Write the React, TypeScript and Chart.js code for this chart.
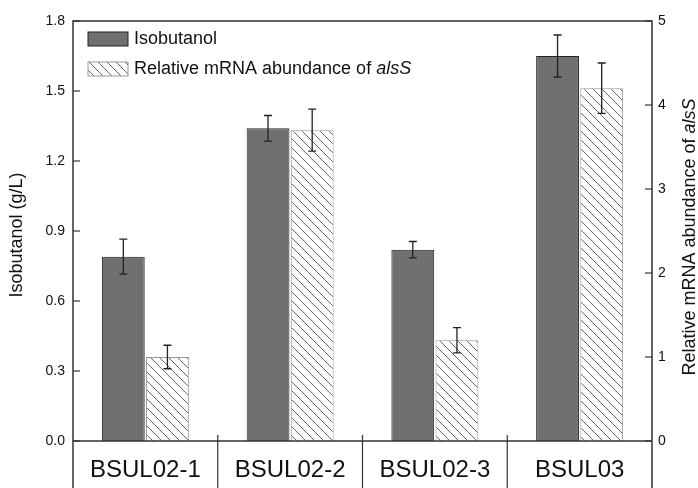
import React, { useEffect, useRef } from "react";
import { Chart, registerables } from "chart.js";

Chart.register(...registerables);

const strains = ["BSUL02-1", "BSUL02-2", "BSUL02-3", "BSUL03"];
const isobutanol = [0.79, 1.34, 0.82, 1.65];
const isobutanolErr = [0.075, 0.055, 0.035, 0.09];
const mrna = [1.0, 3.7, 1.2, 4.2];
const mrnaErr = [0.14, 0.25, 0.15, 0.3];
const leftTicks = [0, 0.3, 0.6, 0.9, 1.2, 1.5, 1.8];
const rightTicks = [0, 1, 2, 3, 4, 5];

const FONT = "'Liberation Sans', Arial, sans-serif";

function makeHatch(): CanvasPattern | string {
  const s = 9;
  const c = document.createElement("canvas");
  c.width = s;
  c.height = s;
  const g = c.getContext("2d");
  if (!g) return "#fff";
  g.fillStyle = "#ffffff";
  g.fillRect(0, 0, s, s);
  g.strokeStyle = "#666";
  g.lineWidth = 1;
  for (const x0 of [-s, 0, s]) {
    g.beginPath();
    g.moveTo(x0, 0);
    g.lineTo(x0 + s, s);
    g.stroke();
  }
  const p = g.createPattern(c, "repeat");
  return p || "#fff";
}

export default function App() {
  const ref = useRef<HTMLCanvasElement | null>(null);
  useEffect(() => {
    if (!ref.current) return;
    const hatch = makeHatch();
    const errs = [isobutanolErr, mrnaErr];

    const deco = {
      id: "deco",
      afterDatasetsDraw(chart: any) {
        const ctx = chart.ctx;
        const ca = chart.chartArea;
        const H = chart.height;
        ctx.save();
        // error bars
        ctx.strokeStyle = "#222";
        ctx.lineWidth = 1.3;
        [0, 1].forEach((di) => {
          const meta = chart.getDatasetMeta(di);
          const scale = chart.scales[meta.yAxisID];
          const vals = chart.data.datasets[di].data as number[];
          meta.data.forEach((el: any, j: number) => {
            const x = el.x;
            const yt = scale.getPixelForValue(vals[j] + errs[di][j]);
            const yb = scale.getPixelForValue(vals[j] - errs[di][j]);
            ctx.beginPath();
            ctx.moveTo(x, yt);
            ctx.lineTo(x, yb);
            ctx.moveTo(x - 4, yt);
            ctx.lineTo(x + 4, yt);
            ctx.moveTo(x - 4, yb);
            ctx.lineTo(x + 4, yb);
            ctx.stroke();
          });
        });
        // frame
        ctx.strokeStyle = "#333";
        ctx.lineWidth = 1.5;
        ctx.beginPath();
        ctx.moveTo(ca.left, H);
        ctx.lineTo(ca.left, ca.top);
        ctx.lineTo(ca.right, ca.top);
        ctx.lineTo(ca.right, H);
        ctx.moveTo(ca.left, ca.bottom);
        ctx.lineTo(ca.right, ca.bottom);
        ctx.stroke();
        // separators
        const step = (ca.right - ca.left) / strains.length;
        ctx.lineWidth = 1.2;
        for (let i = 1; i < strains.length; i++) {
          const x = ca.left + step * i;
          ctx.beginPath();
          ctx.moveTo(x, ca.bottom - 6);
          ctx.lineTo(x, H);
          ctx.stroke();
        }
        // inward ticks
        const yl = chart.scales.y;
        const yr = chart.scales.y1;
        leftTicks.forEach((v) => {
          const y = yl.getPixelForValue(v);
          ctx.beginPath();
          ctx.moveTo(ca.left, y);
          ctx.lineTo(ca.left + 7, y);
          ctx.stroke();
        });
        rightTicks.forEach((v) => {
          const y = yr.getPixelForValue(v);
          ctx.beginPath();
          ctx.moveTo(ca.right, y);
          ctx.lineTo(ca.right - 7, y);
          ctx.stroke();
        });
        // axis titles
        const TS = 18;
        ctx.fillStyle = "#111";
        ctx.textBaseline = "middle";
        ctx.font = `${TS}px ${FONT}`;
        ctx.save();
        ctx.translate(17, 235);
        ctx.rotate(-Math.PI / 2);
        ctx.textAlign = "center";
        ctx.fillText("Isobutanol (g/L)", 0, 0);
        ctx.restore();

        const base = "Relative mRNA abundance of ";
        const ital = "alsS";
        ctx.font = `${TS}px ${FONT}`;
        const w1 = ctx.measureText(base).width;
        ctx.font = `italic ${TS}px ${FONT}`;
        const w2 = ctx.measureText(ital).width;
        ctx.save();
        ctx.translate(690, 237);
        ctx.rotate(-Math.PI / 2);
        ctx.textAlign = "left";
        const sx = -(w1 + w2) / 2;
        ctx.font = `${TS}px ${FONT}`;
        ctx.fillText(base, sx, 0);
        ctx.font = `italic ${TS}px ${FONT}`;
        ctx.fillText(ital, sx + w1, 0);
        ctx.restore();

        // legend
        const LS = 18;
        const lx = 88;
        ctx.lineWidth = 1;
        ctx.fillStyle = "#707070";
        ctx.fillRect(lx, 32, 40, 14);
        ctx.strokeStyle = "#222";
        ctx.strokeRect(lx, 32, 40, 14);
        ctx.fillStyle = hatch as any;
        ctx.fillRect(lx, 62, 40, 14);
        ctx.strokeStyle = "#999";
        ctx.strokeRect(lx, 62, 40, 14);
        ctx.fillStyle = "#111";
        ctx.textAlign = "left";
        ctx.font = `${LS}px ${FONT}`;
        const lw1 = ctx.measureText(base).width;
        ctx.fillText(chart.data.datasets[0].label, lx + 46, 39);
        ctx.fillText(base, lx + 46, 69);
        ctx.font = `italic ${LS}px ${FONT}`;
        ctx.fillText(ital, lx + 46 + lw1, 69);
        ctx.restore();
      },
    };

    const chart = new Chart(ref.current, {
      type: "bar",
      data: {
        labels: strains,
        datasets: [
          {
            label: "Isobutanol",
            data: isobutanol,
            backgroundColor: "#707070",
            borderColor: "#222",
            borderWidth: 1,
            yAxisID: "y",
            categoryPercentage: 0.61,
            barPercentage: 0.97,
          },
          {
            label: "Relative mRNA abundance of alsS",
            data: mrna,
            backgroundColor: hatch as any,
            borderColor: "#999",
            borderWidth: 1,
            yAxisID: "y1",
            categoryPercentage: 0.61,
            barPercentage: 0.97,
          },
        ],
      },
      options: {
        animation: false,
        responsive: false,
        maintainAspectRatio: false,
        layout: { padding: { top: 21, left: 0, right: 0, bottom: 0 } },
        plugins: {
          legend: { display: false },
          tooltip: { enabled: false },
        },
        scales: {
          x: {
            grid: { display: false, drawTicks: false },
            border: { display: false },
            ticks: {
              padding: 15,
              color: "#111",
              font: { family: FONT, size: 24 },
              maxRotation: 0,
            },
            afterFit: (s: any) => {
              s.height = 47;
            },
          },
          y: {
            position: "left",
            min: 0,
            max: 1.8,
            grid: { display: false, drawTicks: false },
            border: { display: false },
            ticks: {
              stepSize: 0.3,
              padding: 8,
              color: "#111",
              font: { family: FONT, size: 14 },
              callback: (v: any) => Number(v).toFixed(1),
            },
            afterFit: (s: any) => {
              s.width = 73;
            },
          },
          y1: {
            position: "right",
            min: 0,
            max: 5,
            grid: { display: false, drawTicks: false },
            border: { display: false },
            ticks: {
              stepSize: 1,
              padding: 6,
              color: "#111",
              font: { family: FONT, size: 14 },
            },
            afterFit: (s: any) => {
              s.width = 46;
            },
          },
        },
      },
      plugins: [deco],
    });
    return () => chart.destroy();
  }, []);

  return (
    <div style={{ position: "fixed", left: 0, top: 0, width: 698, height: 488, background: "#fff" }}>
      <canvas ref={ref} width={698} height={488} style={{ width: 698, height: 488 }} />
    </div>
  );
}
